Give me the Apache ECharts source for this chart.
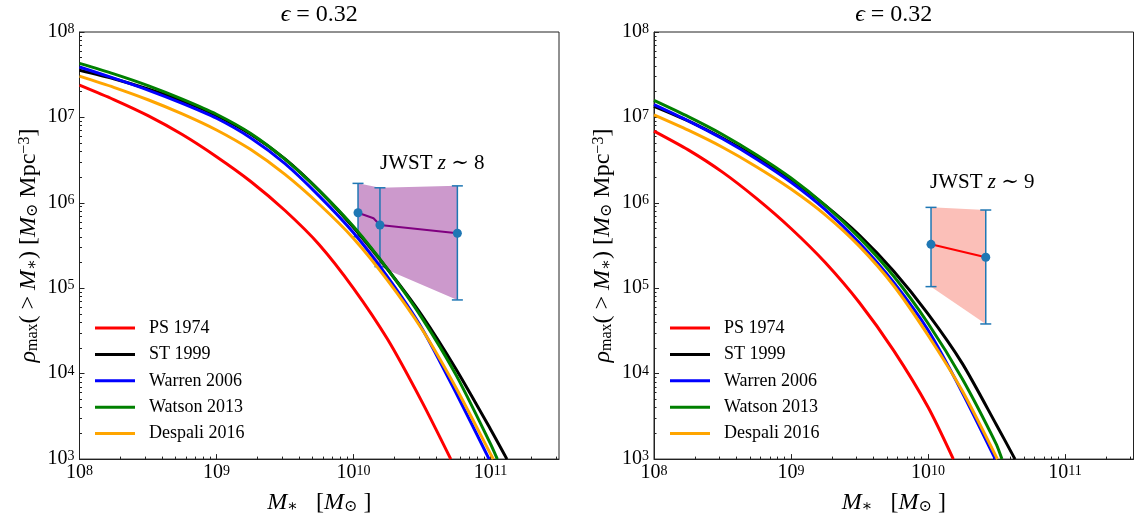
<!DOCTYPE html>
<html><head><meta charset="utf-8">
<script src="https://cdn.jsdelivr.net/npm/echarts@6/dist/echarts.min.js"></script>
<style>html,body{margin:0;padding:0;background:#fff}#c{width:1137px;height:523px}</style>
</head><body><div id="c"></div>
<script>
const FONT = "'Liberation Serif','DejaVu Serif','Times New Roman',serif";

// ---- data ----
const massGrid = [1e8, 1.778e8, 3.162e8, 5.623e8, 1e9, 1.778e9, 3.162e9, 5.623e9, 1e10, 1.778e10, 3.162e10, 5.623e10, 1e11];
const seriesNames = ['PS 1974', 'ST 1999', 'Warren 2006', 'Watson 2013', 'Despali 2016'];
const seriesColors = ['#ff0000', '#000000', '#0000ff', '#008000', '#ffa500'];

// left panel (JWST z~8)
const psL      = [2.39e7, 1.62e7, 1.05e7, 6.31e6, 3.47e6, 1.78e6, 8.13e5, 3.24e5, 1.0e5, 2.51e4, 4.68e3];
const psLEnd   = 5.13e10;
const stL      = [3.57e7, 2.84e7, 2.15e7, 1.56e7, 1.05e7, 6.35e6, 3.26e6, 1.39e6, 5.13e5, 1.66e5, 4.79e4, 1.12e4, 2.24e3];
const stLEnd   = 1.318e11;
const warL     = [3.89e7, 2.88e7, 2.09e7, 1.46e7, 9.77e6, 5.75e6, 2.88e6, 1.20e6, 4.47e5, 1.35e5, 3.39e4, 5.89e3];
const warLEnd  = 9.77e10;
const watL     = [4.29e7, 3.24e7, 2.36e7, 1.64e7, 1.09e7, 6.49e6, 3.25e6, 1.39e6, 5.27e5, 1.66e5, 4.47e4, 9.55e3, 1.51e3];
const watLEnd  = 1.122e11;
const desL     = [3.04e7, 2.25e7, 1.61e7, 1.10e7, 7.13e6, 4.20e6, 2.15e6, 9.62e5, 3.83e5, 1.23e5, 3.31e4, 6.76e3, 1.15e3];
const desLEnd  = 1.047e11;

// right panel (JWST z~9)
const psR      = [6.92e6, 4.17e6, 2.29e6, 1.12e6, 5.01e5, 2.0e5, 6.76e4, 1.86e4, 4.07e3];
const psREnd   = 1.531e10;
const stR      = [1.35e7, 9.12e6, 5.75e6, 3.39e6, 1.86e6, 9.33e5, 4.17e5, 1.58e5, 5.01e4, 1.32e4, 2.51e3];
const stREnd   = 4.315e10;
const warR     = [1.41e7, 9.12e6, 5.62e6, 3.24e6, 1.74e6, 8.32e5, 3.39e5, 1.17e5, 3.24e4, 6.03e3];
const warREnd  = 3.10e10;
const watR     = [1.58e7, 1.02e7, 6.31e6, 3.63e6, 1.95e6, 9.33e5, 3.89e5, 1.38e5, 3.89e4, 8.71e3, 1.48e3];
const watREnd  = 3.467e10;
const desR     = [1.07e7, 7.08e6, 4.47e6, 2.63e6, 1.45e6, 7.24e5, 3.09e5, 1.07e5, 2.82e4, 6.31e3];
const desREnd  = 3.21e10;

// JWST points
const jwst8Mass = [1.079e10, 1.56e10, 5.73e10];
const jwst8Rho  = [7.66e5, 5.5e5, 4.4e5];
const jwst8Hi   = [1.69e6, 1.50e6, 1.58e6];
const jwst8Lo   = [4.0e5, 1.79e5, 7.3e4];
const jwst8LineMass = [1.079e10, 1.40e10, 1.56e10, 5.73e10];
const jwst8LineRho  = [7.66e5, 6.6e5, 5.5e5, 4.4e5];

const jwst9Mass = [1.052e10, 2.64e10];
const jwst9Rho  = [3.27e5, 2.31e5];
const jwst9Hi   = [8.85e5, 8.24e5];
const jwst9Lo   = [1.045e5, 3.82e4];

// ticks
const xMin = 1e8, xMax = 3.1623e11, yMin = 1e3, yMax = 1e8;
const xMajor = [1e8, 1e9, 1e10, 1e11];
const yMajor = [1e3, 1e4, 1e5, 1e6, 1e7, 1e8];
const mantissas = [2, 3, 4, 5, 6, 7, 8, 9];
const xMinor = [], yMinor = [];
[1e8, 1e9, 1e10, 1e11].forEach(d => mantissas.forEach(m => { if (m * d < xMax) xMinor.push(m * d); }));
[1e3, 1e4, 1e5, 1e6, 1e7].forEach(d => mantissas.forEach(m => yMinor.push(m * d)));

// ---- chart ----
const grids = [
  {left: 79.5, top: 32, width: 479.5, height: 427.5},
  {left: 654, top: 32, width: 479.5, height: 427.5}
];
const tickRich = {
  b: {fontFamily: FONT, fontSize: 20, lineHeight: 19, padding: [6, 0, 0, 0], verticalAlign: 'bottom', color: '#000'},
  s: {fontFamily: FONT, fontSize: 14, lineHeight: 14, verticalAlign: 'top', color: '#000'}
};
const nameRich = {
  r: {fontFamily: FONT, fontSize: 24, lineHeight: 24, padding: [3, 0, 3, 0], color: '#000'},
  i: {fontFamily: FONT, fontSize: 24, fontStyle: 'italic', lineHeight: 24, padding: [3, 0, 3, 0], color: '#000'},
  sub: {fontFamily: FONT, fontSize: 16, lineHeight: 16, verticalAlign: 'bottom', color: '#000'},
  sup: {fontFamily: FONT, fontSize: 16, lineHeight: 16, verticalAlign: 'top', color: '#000'}
};
const fmtPow = v => '{b|10}{s|' + Math.round(Math.log10(v)) + '}';
const AX = '#222';

const xAxes = [], yAxes = [];
grids.forEach((g, gi) => {
  xAxes.push({
    type: 'log', logBase: 10, gridIndex: gi, min: xMin, max: xMax, position: 'bottom',
    axisLine: {show: true, lineStyle: {color: AX, width: 1}},
    axisTick: {show: true, inside: true, length: 5, customValues: xMajor, lineStyle: {color: AX, width: 1}},
    axisLabel: {customValues: xMajor, formatter: fmtPow, margin: 5, rich: tickRich},
    splitLine: {show: false},
    name: '{i|M}{sub|∗}{r|   [}{i|M}{sub|⊙}{r| ]}', nameLocation: 'middle', nameGap: 19,
    nameTextStyle: {rich: nameRich}
  });
  xAxes.push({
    type: 'log', logBase: 10, gridIndex: gi, min: xMin, max: xMax, position: 'bottom',
    axisLine: {show: false},
    axisTick: {show: true, inside: true, length: 2.5, customValues: xMinor, lineStyle: {color: AX, width: 1}},
    axisLabel: {show: false}, splitLine: {show: false}
  });
  yAxes.push({
    type: 'log', logBase: 10, gridIndex: gi, min: yMin, max: yMax, position: 'left',
    axisLine: {show: true, lineStyle: {color: AX, width: 1}},
    axisTick: {show: true, inside: true, length: 5, customValues: yMajor, lineStyle: {color: AX, width: 1}},
    axisLabel: {customValues: yMajor, formatter: fmtPow, margin: 5, rich: tickRich},
    splitLine: {show: false},
    name: '{i|ρ}{sub|max}{r|( > }{i|M}{sub|∗}{r|) [}{i|M}{sub|⊙}{r| Mpc}{sup|−3}{r|]}',
    nameLocation: 'middle', nameRotate: 90, nameGap: 33,
    nameTextStyle: {rich: nameRich}
  });
  yAxes.push({
    type: 'log', logBase: 10, gridIndex: gi, min: yMin, max: yMax, position: 'left',
    axisLine: {show: false},
    axisTick: {show: true, inside: true, length: 2.5, customValues: yMinor, lineStyle: {color: AX, width: 1}},
    axisLabel: {show: false}, splitLine: {show: false}
  });
});

function curve(ys, end) {
  const d = ys.map((y, i) => [massGrid[i], y]);
  d.push([end, 1e3]);
  return d;
}
function lineSeries(name, color, data, gi) {
  return {
    type: 'line', name, xAxisIndex: gi * 2, yAxisIndex: gi * 2, data,
    showSymbol: false, symbol: 'none', smooth: 0.25,
    lineStyle: {color, width: 3, join: 'round'}, itemStyle: {color}, z: 3, clip: true
  };
}
function bandSeries(gi, mass, lo, hi, color) {
  return {
    type: 'custom', xAxisIndex: gi * 2, yAxisIndex: gi * 2, z: 1, silent: true,
    data: mass.map((m, i) => [m, lo[i], hi[i]]),
    renderItem: (params, api) => {
      if (params.dataIndex !== 0) return null;
      const top = mass.map((m, i) => api.coord([m, hi[i]]));
      const bot = mass.map((m, i) => api.coord([m, lo[i]])).reverse();
      return {type: 'polygon', shape: {points: top.concat(bot)}, style: {fill: color}};
    }
  };
}
function errSeries(gi, mass, lo, hi) {
  return {
    type: 'custom', xAxisIndex: gi * 2, yAxisIndex: gi * 2, z: 2, silent: true,
    data: mass.map((m, i) => [m, lo[i], hi[i]]),
    renderItem: (params, api) => {
      const x = api.value(0);
      const p1 = api.coord([x, api.value(2)]);
      const p2 = api.coord([x, api.value(1)]);
      const cw = 5.5;
      const st = {stroke: '#1f77b4', lineWidth: 1.5};
      return {type: 'group', children: [
        {type: 'line', shape: {x1: p1[0], y1: p1[1], x2: p2[0], y2: p2[1]}, style: st},
        {type: 'line', shape: {x1: p1[0] - cw, y1: p1[1], x2: p1[0] + cw, y2: p1[1]}, style: st},
        {type: 'line', shape: {x1: p2[0] - cw, y1: p2[1], x2: p2[0] + cw, y2: p2[1]}, style: st}
      ]};
    }
  };
}
function pointSeries(gi, mass, rho) {
  return {
    type: 'scatter', xAxisIndex: gi * 2, yAxisIndex: gi * 2, z: 6, silent: true,
    symbolSize: 9, itemStyle: {color: '#1f77b4', opacity: 1},
    data: mass.map((m, i) => [m, rho[i]])
  };
}
function jLine(gi, mass, rho, color) {
  return {
    type: 'line', xAxisIndex: gi * 2, yAxisIndex: gi * 2, z: 5, silent: true,
    showSymbol: false, symbol: 'none', lineStyle: {color, width: 2},
    data: mass.map((m, i) => [m, rho[i]])
  };
}

const series = [
  bandSeries(0, jwst8Mass, jwst8Lo, jwst8Hi, '#cc99cc'),
  errSeries(0, jwst8Mass, jwst8Lo, jwst8Hi),
  lineSeries(seriesNames[0], seriesColors[0], curve(psL, psLEnd), 0),
  lineSeries(seriesNames[1], seriesColors[1], curve(stL, stLEnd), 0),
  lineSeries(seriesNames[2], seriesColors[2], curve(warL, warLEnd), 0),
  lineSeries(seriesNames[3], seriesColors[3], curve(watL, watLEnd), 0),
  lineSeries(seriesNames[4], seriesColors[4], curve(desL, desLEnd), 0),
  jLine(0, jwst8LineMass, jwst8LineRho, '#800080'),
  pointSeries(0, jwst8Mass, jwst8Rho),

  bandSeries(1, jwst9Mass, jwst9Lo, jwst9Hi, '#fbbfb8'),
  errSeries(1, jwst9Mass, jwst9Lo, jwst9Hi),
  lineSeries(seriesNames[0], seriesColors[0], curve(psR, psREnd), 1),
  lineSeries(seriesNames[1], seriesColors[1], curve(stR, stREnd), 1),
  lineSeries(seriesNames[2], seriesColors[2], curve(warR, warREnd), 1),
  lineSeries(seriesNames[3], seriesColors[3], curve(watR, watREnd), 1),
  lineSeries(seriesNames[4], seriesColors[4], curve(desR, desREnd), 1),
  jLine(1, jwst9Mass, jwst9Rho, '#ff0000'),
  pointSeries(1, jwst9Mass, jwst9Rho)
];

const legendBase = {
  orient: 'vertical', top: 318, padding: 0, itemWidth: 40, itemHeight: 3, itemGap: 6.4, icon: 'rect',
  selectedMode: false, data: seriesNames,
  textStyle: {fontFamily: FONT, fontSize: 18, color: '#000', lineHeight: 20, padding: [0, 0, 0, 9]}
};

const titleRich = {
  r: {fontFamily: FONT, fontSize: 24, color: '#000'},
  i: {fontFamily: FONT, fontSize: 24, fontStyle: 'italic', color: '#000'}
};
const annRich = {
  r: {fontFamily: FONT, fontSize: 21, color: '#000'},
  i: {fontFamily: FONT, fontSize: 21, fontStyle: 'italic', color: '#000'}
};

const option = {
  animation: false,
  backgroundColor: '#fff',
  grid: grids.map(g => Object.assign({show: true, borderColor: AX, borderWidth: 1, containLabel: false}, g)),
  xAxis: xAxes,
  yAxis: yAxes,
  legend: [Object.assign({left: 95}, legendBase), Object.assign({left: 670}, legendBase)],
  graphic: [
    {type: 'text', x: 319.25, y: 15, style: {text: '{i|ϵ}{r| = 0.32}', rich: titleRich, align: 'center', verticalAlign: 'middle'}},
    {type: 'text', x: 893.75, y: 15, style: {text: '{i|ϵ}{r| = 0.32}', rich: titleRich, align: 'center', verticalAlign: 'middle'}},
    {type: 'text', x: 380, y: 163, style: {text: '{r|JWST }{i|z}{r| ∼ 8}', rich: annRich, align: 'left', verticalAlign: 'middle'}},
    {type: 'text', x: 930, y: 182, style: {text: '{r|JWST }{i|z}{r| ∼ 9}', rich: annRich, align: 'left', verticalAlign: 'middle'}}
  ],
  series
};
const chart = echarts.init(document.getElementById('c'));
chart.setOption(option);
</script>
</body></html>
